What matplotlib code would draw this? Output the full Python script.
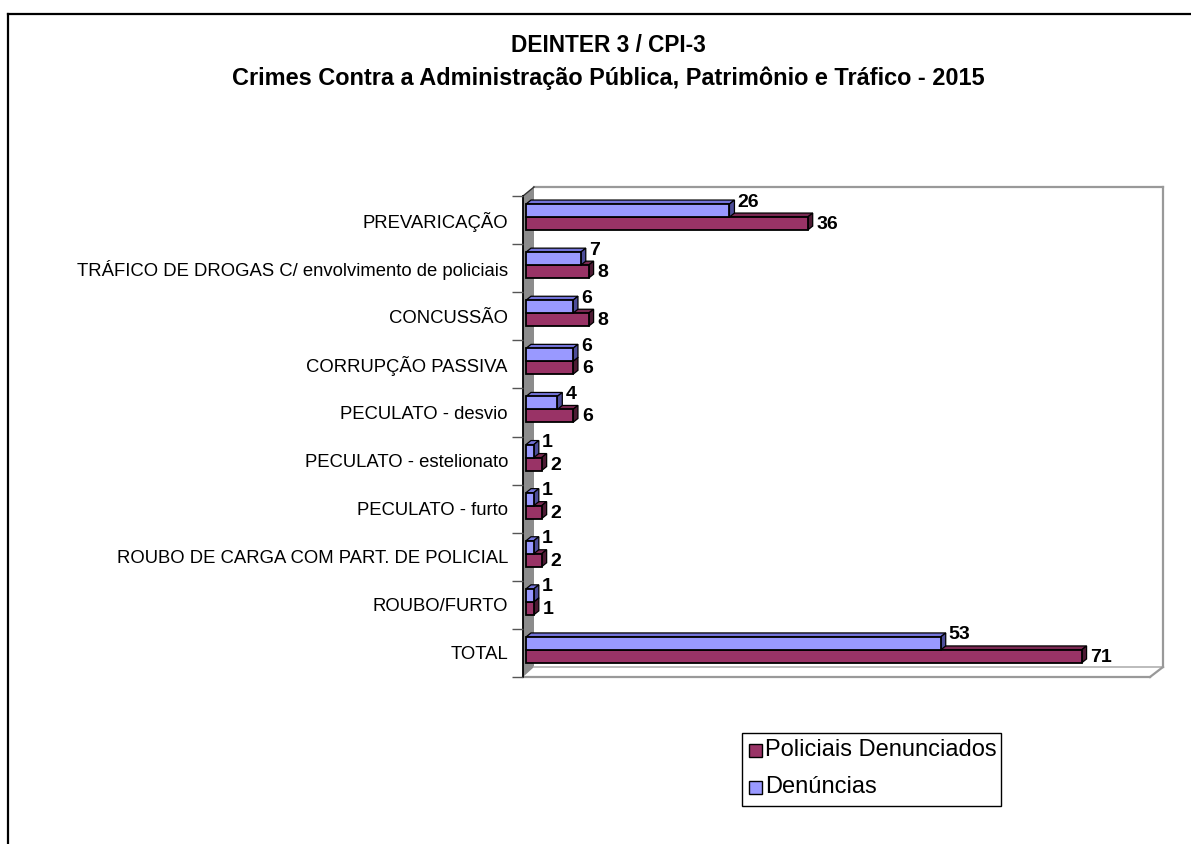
import matplotlib
matplotlib.use("Agg")
import matplotlib.pyplot as plt
from matplotlib.patches import Polygon, Rectangle
from matplotlib.lines import Line2D

plt.rcParams['font.family'] = ['Liberation Sans', 'DejaVu Sans']

# ---- data (top to bottom) ----
categories = [
    "PREVARICAÇÃO",
    "TRÁFICO DE DROGAS C/ envolvimento de policiais",
    "CONCUSSÃO",
    "CORRUPÇÃO PASSIVA",
    "PECULATO - desvio",
    "PECULATO - estelionato",
    "PECULATO - furto",
    "ROUBO DE CARGA COM PART. DE POLICIAL",
    "ROUBO/FURTO",
    "TOTAL",
]
denuncias = [26, 7, 6, 6, 4, 1, 1, 1, 1, 53]
policiais = [36, 8, 8, 6, 6, 2, 2, 2, 1, 71]
series_names = ["Policiais Denunciados", "Denúncias"]
title_lines = ["DEINTER 3 / CPI-3",
               "Crimes Contra a Administração Pública, Patrimônio e Tráfico - 2015"]
xmax = 80

# ---- figure geometry ----
W, H = 1191, 844
fig = plt.figure(figsize=(W / 100, H / 100), dpi=100)
fig.patch.set_facecolor('white')


def F(x, y):
    return (x / W, 1 - y / H)


ax_l, ax_r, ax_t, ax_b = 526, 1152, 196, 677
ax = fig.add_axes([ax_l / W, 1 - ax_b / H, (ax_r - ax_l) / W, (ax_b - ax_t) / H])
n = len(categories)
ax.set_xlim(0, xmax)
ax.set_ylim(n - 0.5, -0.5)
ax.set_facecolor('none')
for s in ax.spines.values():
    s.set_visible(False)
ax.set_xticks([])

px_x = (ax_r - ax_l) / xmax
px_y = (ax_b - ax_t) / n

# ---- 3D frame (wall, back plane, floor) ----
wall_front, wall_back = 523, 534
top_front, top_back = 196, 187
floor_front, floor_back = 677, 667
right_back, right_front = 1163, 1150
wall = Polygon([F(wall_front, top_front), F(wall_back, top_back),
                F(wall_back, floor_back), F(wall_front, floor_front)],
               closed=True, transform=fig.transFigure, facecolor='#8c8c8c',
               edgecolor='none', zorder=-2)
fig.add_artist(wall)
frame_lines = [
    ([wall_back, right_back], [top_back, top_back], '#999999', 1.6, -1),
    ([right_back, right_back], [top_back, floor_back], '#999999', 1.6, -1),
    ([wall_back, right_back], [floor_back, floor_back], '#b0b0b0', 1.2, -1),
    ([wall_front, right_front], [floor_front, floor_front], '#999999', 1.6, -1),
    ([right_front, right_back], [floor_front, floor_back], '#999999', 1.6, -1),
    ([wall_front, wall_back], [top_front, top_back], '#333333', 1.0, -1),
    ([wall_front, wall_front], [top_front, floor_front], '#000000', 1.3, -1),
]
for xs, ys, c, lw, z in frame_lines:
    pts = [F(x, y) for x, y in zip(xs, ys)]
    fig.add_artist(Line2D([p[0] for p in pts], [p[1] for p in pts],
                          transform=fig.transFigure, color=c, lw=lw, zorder=z))

# ---- ticks & labels ----
ax.spines['left'].set_position(('outward', (ax_l - wall_front) * 0.72))
ax.set_yticks(range(n))
ax.set_yticklabels(categories, fontsize=13.3)
ax.set_yticks([i - 0.5 for i in range(n + 1)], minor=True)
ax.tick_params(axis='y', which='major', length=0, pad=(wall_front - 508) * 0.72)
ax.tick_params(axis='y', which='minor', length=11 * 0.72, width=1.0, color='#555555')

# ---- bars ----
dx = 5 / px_x
dy = -4 / px_y
bh = 13 / px_y
shift = -3 / px_y

colors = {
    'pol': ('#993366', '#7a2952', '#4d1a33'),
    'den': ('#9999ff', '#7373d9', '#4d4d99'),
}


def bar3d(y_top, w, cols):
    front, top, side = cols
    top_face = Polygon([(0, y_top), (w, y_top), (w + dx, y_top + dy), (dx, y_top + dy)],
                       closed=True, facecolor=top, edgecolor='black', lw=0.9,
                       clip_on=False, zorder=3)
    side_face = Polygon([(w, y_top), (w, y_top + bh), (w + dx, y_top + bh + dy),
                         (w + dx, y_top + dy)], closed=True, facecolor=side,
                        edgecolor='black', lw=0.9, clip_on=False, zorder=3)
    front_face = Rectangle((0, y_top), w, bh, facecolor=front, edgecolor='black',
                           lw=1.3, clip_on=False, zorder=3)
    for p in (top_face, side_face, front_face):
        ax.add_patch(p)


for i in range(n):
    boundary = i + shift
    bar3d(boundary, policiais[i], colors['pol'])
    bar3d(boundary - bh, denuncias[i], colors['den'])
    # value labels
    ax.text(denuncias[i] + dx + 3 / px_x, boundary - bh - 2 / px_y, str(denuncias[i]),
            fontsize=14, fontweight='bold', ha='left', va='center', zorder=4)
    ax.text(policiais[i] + 9 / px_x, boundary + bh / 2 + 1 / px_y, str(policiais[i]),
            fontsize=14, fontweight='bold', ha='left', va='center', zorder=4)

# ---- title ----
fig.text(*F(608, 46), title_lines[0], ha='center', va='center',
         fontsize=16.3, fontweight='bold')
fig.text(*F(608, 78), title_lines[1], ha='center', va='center',
         fontsize=16.9, fontweight='bold')

# ---- legend (drawn manually) ----
leg_box = Rectangle(F(742, 806), (1001 - 742) / W, (806 - 733) / H,
                    transform=fig.transFigure, facecolor='white',
                    edgecolor='black', lw=1.0)
fig.add_artist(leg_box)
for name, col, yc in [(series_names[0], colors['pol'][0], 750),
                      (series_names[1], colors['den'][0], 787)]:
    sq = Rectangle(F(749, yc + 6.5), 13 / W, 13 / H, transform=fig.transFigure,
                   facecolor=col, edgecolor='black', lw=1.0)
    fig.add_artist(sq)
    fig.text(*F(765, yc), name, ha='left', va='center', fontsize=17)

# ---- outer border ----
fig.add_artist(Line2D([8 / W, 8 / W], [0, 1 - 14 / H], transform=fig.transFigure,
                      color='black', lw=1.6))
fig.add_artist(Line2D([8 / W, 1], [1 - 14 / H, 1 - 14 / H], transform=fig.transFigure,
                      color='black', lw=1.6))

fig.savefig("out.png", dpi=100, facecolor='white')
